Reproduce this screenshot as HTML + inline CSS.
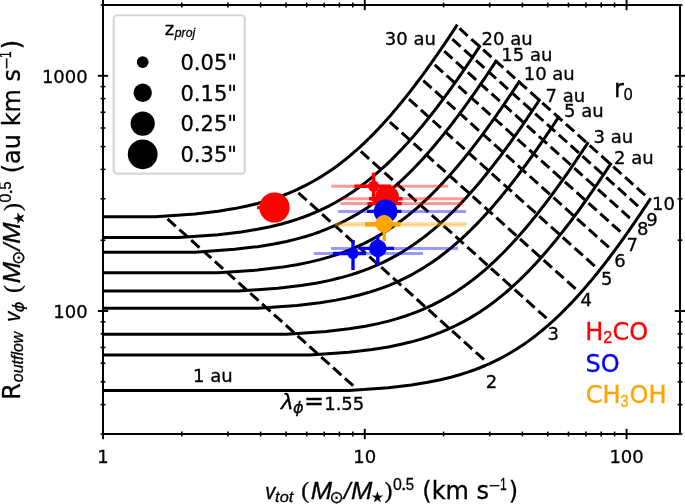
<!DOCTYPE html>
<html><head><meta charset="utf-8"><title>plot</title><style>html,body{margin:0;padding:0;background:#fff}svg{display:block}text{font-kerning:none;white-space:pre}</style></head><body>
<svg width="685" height="504" viewBox="0 0 685 504" font-family="DejaVu Sans, Liberation Sans, sans-serif">
<rect width="685" height="504" fill="#fff"/>
<defs><clipPath id="ax"><rect x="103.0" y="5.0" width="577.0" height="429.0"/></clipPath></defs>
<g clip-path="url(#ax)" fill="none" stroke="#000" stroke-width="3.0" stroke-linejoin="round" stroke-linecap="square">
<path d="M98.00,390.47 L349.00,390.47 L388.41,387.68 L411.45,384.96 L427.81,382.31 L440.49,379.74 L450.86,377.22 L459.62,374.77 L467.21,372.37 L473.90,370.03 L479.89,367.74 L485.31,365.50 L490.26,363.31 L494.81,361.16 L499.02,359.06 L502.94,357.00 L506.61,354.98 L510.06,353.00 L513.31,351.06 L516.38,349.16 L519.30,347.29 L522.07,345.45 L524.71,343.65 L527.24,341.87 L529.66,340.13 L531.98,338.42 L534.21,336.73 L536.36,335.07 L538.42,333.44 L540.42,331.84 L542.35,330.26 L544.21,328.70 L546.01,327.17 L547.76,325.66 L549.46,324.17 L551.11,322.70 L552.71,321.25 L554.27,319.83 L555.78,318.42 L557.26,317.03 L558.70,315.66 L560.10,314.31 L561.47,312.98 L562.81,311.66 L564.12,310.36 L565.39,309.08 L566.64,307.81 L567.87,306.56 L569.06,305.33 L570.23,304.10 L571.38,302.90 L572.51,301.70 L573.61,300.52 L574.70,299.36 L575.76,298.21 L576.80,297.07 L577.83,295.94 L578.83,294.82 L579.82,293.72 L580.79,292.63 L581.75,291.55 L582.69,290.48 L583.61,289.42 L584.52,288.38 L585.42,287.34 L586.30,286.32 L587.17,285.30 L588.02,284.30 L588.86,283.30 L589.69,282.32 L590.51,281.34 L591.32,280.37 L592.11,279.41 L592.90,278.46 L593.67,277.52 L594.43,276.59 L595.18,275.67 L595.93,274.75 L596.66,273.85 L597.39,272.95 L598.10,272.06 L598.81,271.17 L599.50,270.30 L600.19,269.43 L600.87,268.57 L601.55,267.71 L602.21,266.87 L602.87,266.03 L603.52,265.19 L604.16,264.37 L604.80,263.55 L605.42,262.73 L606.05,261.93 L606.66,261.13 L607.27,260.33 L607.87,259.54 L608.46,258.76 L609.05,257.99 L609.64,257.22 L610.21,256.45 L610.79,255.69 L611.35,254.94 L611.91,254.19 L612.47,253.45 L613.01,252.71 L613.56,251.98 L614.10,251.25 L614.63,250.53 L615.16,249.82 L615.68,249.11 L616.20,248.40 L616.72,247.70 L617.23,247.00 L617.73,246.31 L618.23,245.62 L618.73,244.94 L619.22,244.26 L619.71,243.59 L620.19,242.92 L620.67,242.25 L621.15,241.59 L621.62,240.94 L622.09,240.28 L622.55,239.64 L623.01,238.99 L623.47,238.35 L623.92,237.72 L624.37,237.08 L624.82,236.45 L625.26,235.83 L625.70,235.21 L626.14,234.59 L626.57,233.98 L627.00,233.37 L627.42,232.76 L627.84,232.16 L628.26,231.56 L628.68,230.97 L629.09,230.38 L629.50,229.79 L629.91,229.20 L630.32,228.62 L630.72,228.04 L631.12,227.47 L631.51,226.90 L631.91,226.33 L632.30,225.76 L632.69,225.20 L633.07,224.64 L633.45,224.08 L633.83,223.53 L634.21,222.98 L634.59,222.43 L634.96,221.89 L635.33,221.35 L635.70,220.81 L636.06,220.27 L636.43,219.74 L636.79,219.21 L637.15,218.68 L637.50,218.16 L637.86,217.63 L638.21,217.11 L638.56,216.60 L638.91,216.08 L639.25,215.57 L639.60,215.06 L639.94,214.56 L640.28,214.05 L640.61,213.55 L640.95,213.05 L641.28,212.55 L641.61,212.06 L641.94,211.57 L642.27,211.08 L642.60,210.59 L642.92,210.11 L643.24,209.62 L643.56,209.14 L643.88,208.66 L644.20,208.19 L644.51,207.71 L644.83,207.24 L645.14,206.77 L645.45,206.31 L645.76,205.84 L646.06,205.38 L646.37,204.92 L646.67,204.46 L646.97,204.00 L647.27,203.55 L647.57,203.09 L647.87,202.64 L648.16,202.19 L648.46,201.75 L648.75,201.30 L649.04,200.86 L649.33,200.42 L649.62,199.98 L649.90,199.54"/>
<path d="M98.00,355.06 L309.60,355.06 L349.00,352.27 L372.05,349.56 L388.41,346.91 L401.09,344.33 L411.45,341.82 L420.22,339.36 L427.81,336.97 L434.50,334.62 L440.49,332.34 L445.91,330.10 L450.86,327.90 L455.41,325.76 L459.62,323.66 L463.54,321.60 L467.21,319.58 L470.66,317.60 L473.90,315.66 L476.98,313.76 L479.89,311.89 L482.67,310.05 L485.31,308.24 L487.84,306.47 L490.26,304.73 L492.58,303.02 L494.81,301.33 L496.95,299.67 L499.02,298.04 L501.02,296.44 L502.94,294.85 L504.81,293.30 L506.61,291.76 L508.36,290.25 L510.06,288.76 L511.71,287.30 L513.31,285.85 L514.86,284.42 L516.38,283.02 L517.86,281.63 L519.30,280.26 L520.70,278.91 L522.07,277.58 L523.41,276.26 L524.71,274.96 L525.99,273.68 L527.24,272.41 L528.46,271.16 L529.66,269.92 L530.83,268.70 L531.98,267.49 L533.11,266.30 L534.21,265.12 L535.29,263.96 L536.36,262.80 L537.40,261.66 L538.42,260.54 L539.43,259.42 L540.42,258.32 L541.39,257.23 L542.35,256.15 L543.28,255.08 L544.21,254.02 L545.12,252.98 L546.01,251.94 L546.90,250.91 L547.76,249.90 L548.62,248.89 L549.46,247.90 L550.29,246.91 L551.11,245.94 L551.91,244.97 L552.71,244.01 L553.49,243.06 L554.27,242.12 L555.03,241.19 L555.78,240.27 L556.53,239.35 L557.26,238.44 L557.98,237.54 L558.70,236.65 L559.40,235.77 L560.10,234.89 L560.79,234.03 L561.47,233.16 L562.14,232.31 L562.81,231.46 L563.47,230.62 L564.12,229.79 L564.76,228.96 L565.39,228.14 L566.02,227.33 L566.64,226.52 L567.26,225.72 L567.87,224.93 L568.47,224.14 L569.06,223.36 L569.65,222.58 L570.23,221.81 L570.81,221.05 L571.38,220.29 L571.95,219.54 L572.51,218.79 L573.06,218.05 L573.61,217.31 L574.16,216.58 L574.70,215.85 L575.23,215.13 L575.76,214.41 L576.28,213.70 L576.80,213.00 L577.32,212.29 L577.83,211.60 L578.33,210.91 L578.83,210.22 L579.33,209.54 L579.82,208.86 L580.31,208.18 L580.79,207.51 L581.27,206.85 L581.75,206.19 L582.22,205.53 L582.69,204.88 L583.15,204.23 L583.61,203.59 L584.07,202.95 L584.52,202.31 L584.97,201.68 L585.42,201.05 L585.86,200.43 L586.30,199.81 L586.73,199.19 L587.17,198.58 L587.59,197.97 L588.02,197.36 L588.44,196.76 L588.86,196.16 L589.28,195.57 L589.69,194.97 L590.10,194.39 L590.51,193.80 L590.91,193.22 L591.32,192.64 L591.72,192.07 L592.11,191.49 L592.50,190.93 L592.90,190.36 L593.28,189.80 L593.67,189.24 L594.05,188.68 L594.43,188.13 L594.81,187.58 L595.18,187.03 L595.56,186.49 L595.93,185.94 L596.30,185.41 L596.66,184.87 L597.02,184.34 L597.39,183.81 L597.74,183.28 L598.10,182.75 L598.45,182.23 L598.81,181.71 L599.16,181.20 L599.50,180.68 L599.85,180.17 L600.19,179.66 L600.53,179.15 L600.87,178.65 L601.21,178.15 L601.55,177.65 L601.88,177.15 L602.21,176.66 L602.54,176.17 L602.87,175.68 L603.19,175.19 L603.52,174.70 L603.84,174.22 L604.16,173.74 L604.48,173.26 L604.80,172.79 L605.11,172.31 L605.42,171.84 L605.74,171.37 L606.05,170.90 L606.35,170.44 L606.66,169.98 L606.96,169.52 L607.27,169.06 L607.57,168.60 L607.87,168.14 L608.17,167.69 L608.46,167.24 L608.76,166.79 L609.05,166.35 L609.35,165.90 L609.64,165.46 L609.93,165.02 L610.21,164.58 L610.50,164.14"/>
<path d="M98.00,334.35 L286.55,334.35 L325.95,331.56 L349.00,328.85 L365.36,326.20 L378.04,323.62 L388.41,321.11 L397.17,318.65 L404.76,316.26 L411.45,313.92 L417.44,311.63 L422.86,309.39 L427.81,307.20 L432.36,305.05 L436.57,302.95 L440.49,300.89 L444.16,298.87 L447.61,296.89 L450.86,294.95 L453.93,293.05 L456.85,291.18 L459.62,289.34 L462.26,287.54 L464.79,285.76 L467.21,284.02 L469.53,282.31 L471.76,280.62 L473.90,278.96 L475.97,277.33 L477.97,275.73 L479.89,274.15 L481.76,272.59 L483.56,271.05 L485.31,269.54 L487.01,268.06 L488.66,266.59 L490.26,265.14 L491.82,263.72 L493.33,262.31 L494.81,260.92 L496.25,259.55 L497.65,258.20 L499.02,256.87 L500.36,255.55 L501.67,254.25 L502.94,252.97 L504.19,251.70 L505.41,250.45 L506.61,249.21 L507.78,247.99 L508.93,246.79 L510.06,245.59 L511.16,244.41 L512.24,243.25 L513.31,242.09 L514.35,240.95 L515.37,239.83 L516.38,238.71 L517.37,237.61 L518.34,236.52 L519.30,235.44 L520.24,234.37 L521.16,233.31 L522.07,232.27 L522.97,231.23 L523.85,230.21 L524.71,229.19 L525.57,228.18 L526.41,227.19 L527.24,226.20 L528.06,225.23 L528.87,224.26 L529.66,223.30 L530.44,222.35 L531.22,221.41 L531.98,220.48 L532.73,219.56 L533.48,218.64 L534.21,217.73 L534.93,216.84 L535.65,215.94 L536.36,215.06 L537.05,214.18 L537.74,213.32 L538.42,212.46 L539.10,211.60 L539.76,210.75 L540.42,209.91 L541.07,209.08 L541.71,208.25 L542.35,207.44 L542.97,206.62 L543.59,205.82 L544.21,205.01 L544.82,204.22 L545.42,203.43 L546.01,202.65 L546.60,201.87 L547.19,201.10 L547.76,200.34 L548.33,199.58 L548.90,198.83 L549.46,198.08 L550.01,197.34 L550.56,196.60 L551.11,195.87 L551.65,195.14 L552.18,194.42 L552.71,193.70 L553.23,192.99 L553.75,192.29 L554.27,191.59 L554.78,190.89 L555.28,190.20 L555.78,189.51 L556.28,188.83 L556.77,188.15 L557.26,187.48 L557.74,186.81 L558.22,186.14 L558.70,185.48 L559.17,184.82 L559.64,184.17 L560.10,183.52 L560.56,182.88 L561.02,182.24 L561.47,181.60 L561.92,180.97 L562.37,180.34 L562.81,179.72 L563.25,179.10 L563.68,178.48 L564.12,177.87 L564.55,177.26 L564.97,176.65 L565.39,176.05 L565.81,175.45 L566.23,174.86 L566.64,174.27 L567.05,173.68 L567.46,173.09 L567.87,172.51 L568.27,171.93 L568.67,171.36 L569.06,170.78 L569.46,170.22 L569.85,169.65 L570.23,169.09 L570.62,168.53 L571.00,167.97 L571.38,167.42 L571.76,166.87 L572.14,166.32 L572.51,165.78 L572.88,165.24 L573.25,164.70 L573.61,164.16 L573.98,163.63 L574.34,163.10 L574.70,162.57 L575.05,162.04 L575.41,161.52 L575.76,161.00 L576.11,160.49 L576.46,159.97 L576.80,159.46 L577.14,158.95 L577.49,158.44 L577.83,157.94 L578.16,157.44 L578.50,156.94 L578.83,156.44 L579.16,155.95 L579.49,155.46 L579.82,154.97 L580.15,154.48 L580.47,153.99 L580.79,153.51 L581.11,153.03 L581.43,152.55 L581.75,152.08 L582.06,151.60 L582.38,151.13 L582.69,150.66 L583.00,150.19 L583.30,149.73 L583.61,149.27 L583.92,148.81 L584.22,148.35 L584.52,147.89 L584.82,147.44 L585.12,146.98 L585.42,146.53 L585.71,146.08 L586.01,145.64 L586.30,145.19 L586.59,144.75 L586.88,144.31 L587.17,143.87 L587.45,143.43"/>
<path d="M98.00,308.26 L257.51,308.26 L296.92,305.47 L319.96,302.76 L336.32,300.11 L349.00,297.53 L359.37,295.02 L368.13,292.56 L375.72,290.17 L382.42,287.83 L388.41,285.54 L393.82,283.30 L398.77,281.11 L403.32,278.96 L407.53,276.86 L411.45,274.80 L415.12,272.78 L418.57,270.80 L421.82,268.86 L424.89,266.96 L427.81,265.09 L430.58,263.25 L433.23,261.44 L435.75,259.67 L438.17,257.93 L440.49,256.22 L442.72,254.53 L444.87,252.87 L446.93,251.24 L448.93,249.64 L450.86,248.05 L452.72,246.50 L454.52,244.96 L456.27,243.45 L457.97,241.97 L459.62,240.50 L461.22,239.05 L462.78,237.62 L464.29,236.22 L465.77,234.83 L467.21,233.46 L468.61,232.11 L469.98,230.78 L471.32,229.46 L472.63,228.16 L473.90,226.88 L475.15,225.61 L476.38,224.36 L477.57,223.12 L478.75,221.90 L479.89,220.69 L481.02,219.50 L482.12,218.32 L483.21,217.16 L484.27,216.00 L485.31,214.86 L486.34,213.74 L487.34,212.62 L488.33,211.52 L489.30,210.43 L490.26,209.35 L491.20,208.28 L492.12,207.22 L493.03,206.18 L493.93,205.14 L494.81,204.11 L495.68,203.10 L496.53,202.09 L497.37,201.10 L498.20,200.11 L499.02,199.14 L499.83,198.17 L500.62,197.21 L501.41,196.26 L502.18,195.32 L502.94,194.39 L503.70,193.47 L504.44,192.55 L505.17,191.64 L505.90,190.75 L506.61,189.85 L507.32,188.97 L508.02,188.09 L508.70,187.23 L509.39,186.36 L510.06,185.51 L510.72,184.66 L511.38,183.82 L512.03,182.99 L512.67,182.16 L513.31,181.34 L513.94,180.53 L514.56,179.72 L515.17,178.92 L515.78,178.13 L516.38,177.34 L516.98,176.56 L517.56,175.78 L518.15,175.01 L518.73,174.25 L519.30,173.49 L519.86,172.74 L520.42,171.99 L520.98,171.25 L521.53,170.51 L522.07,169.78 L522.61,169.05 L523.14,168.33 L523.67,167.61 L524.20,166.90 L524.71,166.20 L525.23,165.50 L525.74,164.80 L526.24,164.11 L526.74,163.42 L527.24,162.74 L527.73,162.06 L528.22,161.38 L528.71,160.72 L529.18,160.05 L529.66,159.39 L530.13,158.73 L530.60,158.08 L531.06,157.43 L531.52,156.79 L531.98,156.15 L532.43,155.51 L532.88,154.88 L533.33,154.25 L533.77,153.63 L534.21,153.01 L534.65,152.39 L535.08,151.78 L535.51,151.17 L535.93,150.56 L536.36,149.96 L536.78,149.36 L537.19,148.77 L537.61,148.17 L538.02,147.59 L538.42,147.00 L538.83,146.42 L539.23,145.84 L539.63,145.27 L540.02,144.69 L540.42,144.13 L540.81,143.56 L541.20,143.00 L541.58,142.44 L541.96,141.88 L542.35,141.33 L542.72,140.78 L543.10,140.23 L543.47,139.69 L543.84,139.15 L544.21,138.61 L544.57,138.07 L544.94,137.54 L545.30,137.01 L545.66,136.48 L546.01,135.95 L546.37,135.43 L546.72,134.91 L547.07,134.40 L547.42,133.88 L547.76,133.37 L548.11,132.86 L548.45,132.35 L548.79,131.85 L549.12,131.35 L549.46,130.85 L549.79,130.35 L550.12,129.86 L550.45,129.37 L550.78,128.88 L551.11,128.39 L551.43,127.90 L551.75,127.42 L552.07,126.94 L552.39,126.46 L552.71,125.99 L553.02,125.51 L553.34,125.04 L553.65,124.57 L553.96,124.10 L554.27,123.64 L554.57,123.18 L554.88,122.72 L555.18,122.26 L555.48,121.80 L555.78,121.35 L556.08,120.89 L556.38,120.44 L556.67,119.99 L556.97,119.55 L557.26,119.10 L557.55,118.66 L557.84,118.22 L558.13,117.78 L558.41,117.34"/>
<path d="M98.00,291.08 L238.39,291.08 L277.79,288.29 L300.84,285.57 L317.19,282.93 L329.88,280.35 L340.24,277.83 L349.00,275.38 L356.59,272.98 L363.29,270.64 L369.28,268.35 L374.70,266.11 L379.64,263.92 L384.19,261.77 L388.41,259.67 L392.33,257.61 L396.00,255.60 L399.44,253.62 L402.69,251.68 L405.76,249.77 L408.68,247.90 L411.45,246.06 L414.10,244.26 L416.63,242.49 L419.04,240.74 L421.37,239.03 L423.59,237.35 L425.74,235.69 L427.81,234.06 L429.80,232.45 L431.73,230.87 L433.59,229.31 L435.40,227.78 L437.15,226.27 L438.84,224.78 L440.49,223.31 L442.09,221.87 L443.65,220.44 L445.17,219.03 L446.64,217.65 L448.08,216.28 L449.49,214.93 L450.86,213.59 L452.19,212.28 L453.50,210.98 L454.78,209.69 L456.03,208.43 L457.25,207.17 L458.45,205.94 L459.62,204.72 L460.77,203.51 L461.89,202.32 L463.00,201.14 L464.08,199.97 L465.14,198.82 L466.19,197.68 L467.21,196.55 L468.22,195.44 L469.20,194.33 L470.18,193.24 L471.13,192.16 L472.07,191.09 L473.00,190.04 L473.90,188.99 L474.80,187.95 L475.68,186.93 L476.55,185.91 L477.40,184.91 L478.25,183.91 L479.08,182.93 L479.89,181.95 L480.70,180.98 L481.50,180.03 L482.28,179.08 L483.05,178.14 L483.82,177.20 L484.57,176.28 L485.31,175.37 L486.05,174.46 L486.77,173.56 L487.48,172.67 L488.19,171.78 L488.89,170.91 L489.58,170.04 L490.26,169.18 L490.93,168.33 L491.60,167.48 L492.25,166.64 L492.90,165.81 L493.55,164.98 L494.18,164.16 L494.81,163.35 L495.43,162.54 L496.04,161.74 L496.65,160.94 L497.25,160.16 L497.85,159.37 L498.44,158.60 L499.02,157.83 L499.60,157.06 L500.17,156.30 L500.74,155.55 L501.30,154.80 L501.85,154.06 L502.40,153.32 L502.94,152.59 L503.48,151.87 L504.02,151.15 L504.54,150.43 L505.07,149.72 L505.59,149.01 L506.10,148.31 L506.61,147.61 L507.12,146.92 L507.62,146.23 L508.11,145.55 L508.61,144.87 L509.09,144.20 L509.58,143.53 L510.06,142.87 L510.53,142.20 L511.01,141.55 L511.47,140.90 L511.94,140.25 L512.40,139.60 L512.85,138.96 L513.31,138.33 L513.76,137.70 L514.20,137.07 L514.64,136.44 L515.08,135.82 L515.52,135.21 L515.95,134.59 L516.38,133.98 L516.81,133.38 L517.23,132.78 L517.65,132.18 L518.06,131.58 L518.48,130.99 L518.89,130.40 L519.30,129.82 L519.70,129.23 L520.10,128.66 L520.50,128.08 L520.90,127.51 L521.29,126.94 L521.68,126.37 L522.07,125.81 L522.46,125.25 L522.84,124.70 L523.22,124.14 L523.60,123.59 L523.97,123.05 L524.34,122.50 L524.71,121.96 L525.08,121.42 L525.45,120.89 L525.81,120.35 L526.17,119.82 L526.53,119.29 L526.89,118.77 L527.24,118.25 L527.59,117.73 L527.94,117.21 L528.29,116.70 L528.64,116.18 L528.98,115.68 L529.32,115.17 L529.66,114.66 L530.00,114.16 L530.33,113.66 L530.67,113.17 L531.00,112.67 L531.33,112.18 L531.66,111.69 L531.98,111.20 L532.30,110.72 L532.63,110.24 L532.95,109.76 L533.27,109.28 L533.58,108.80 L533.90,108.33 L534.21,107.86 L534.52,107.39 L534.83,106.92 L535.14,106.45 L535.45,105.99 L535.75,105.53 L536.05,105.07 L536.36,104.61 L536.66,104.16 L536.95,103.71 L537.25,103.26 L537.55,102.81 L537.84,102.36 L538.13,101.92 L538.42,101.47 L538.71,101.03 L539.00,100.59 L539.29,100.16"/>
<path d="M98.00,272.86 L218.11,272.86 L257.51,270.07 L280.56,267.36 L296.92,264.71 L309.60,262.13 L319.96,259.62 L328.73,257.16 L336.32,254.76 L343.01,252.42 L349.00,250.13 L354.42,247.89 L359.37,245.70 L363.92,243.56 L368.13,241.46 L372.05,239.40 L375.72,237.38 L379.17,235.40 L382.42,233.46 L385.49,231.55 L388.41,229.68 L391.18,227.85 L393.82,226.04 L396.35,224.27 L398.77,222.53 L401.09,220.81 L403.32,219.13 L405.46,217.47 L407.53,215.84 L409.53,214.23 L411.45,212.65 L413.32,211.10 L415.12,209.56 L416.87,208.05 L418.57,206.56 L420.22,205.10 L421.82,203.65 L423.38,202.22 L424.89,200.82 L426.37,199.43 L427.81,198.06 L429.21,196.71 L430.58,195.37 L431.92,194.06 L433.23,192.76 L434.50,191.48 L435.75,190.21 L436.97,188.96 L438.17,187.72 L439.34,186.50 L440.49,185.29 L441.62,184.10 L442.72,182.92 L443.80,181.75 L444.87,180.60 L445.91,179.46 L446.93,178.33 L447.94,177.22 L448.93,176.12 L449.90,175.03 L450.86,173.95 L451.80,172.88 L452.72,171.82 L453.63,170.77 L454.52,169.74 L455.41,168.71 L456.27,167.70 L457.13,166.69 L457.97,165.70 L458.80,164.71 L459.62,163.73 L460.43,162.77 L461.22,161.81 L462.00,160.86 L462.78,159.92 L463.54,158.99 L464.29,158.06 L465.04,157.15 L465.77,156.24 L466.49,155.34 L467.21,154.45 L467.92,153.57 L468.61,152.69 L469.30,151.82 L469.98,150.96 L470.66,150.11 L471.32,149.26 L471.98,148.42 L472.63,147.59 L473.27,146.76 L473.90,145.94 L474.53,145.13 L475.15,144.32 L475.77,143.52 L476.38,142.73 L476.98,141.94 L477.57,141.16 L478.16,140.38 L478.75,139.61 L479.32,138.85 L479.89,138.09 L480.46,137.33 L481.02,136.59 L481.57,135.84 L482.12,135.11 L482.67,134.38 L483.21,133.65 L483.74,132.93 L484.27,132.21 L484.79,131.50 L485.31,130.79 L485.83,130.09 L486.34,129.40 L486.84,128.70 L487.34,128.02 L487.84,127.33 L488.33,126.66 L488.82,125.98 L489.30,125.31 L489.78,124.65 L490.26,123.99 L490.73,123.33 L491.20,122.68 L491.66,122.03 L492.12,121.39 L492.58,120.75 L493.03,120.11 L493.48,119.48 L493.93,118.85 L494.37,118.23 L494.81,117.61 L495.24,116.99 L495.68,116.38 L496.11,115.77 L496.53,115.16 L496.95,114.56 L497.37,113.96 L497.79,113.36 L498.20,112.77 L498.61,112.18 L499.02,111.60 L499.43,111.02 L499.83,110.44 L500.23,109.86 L500.62,109.29 L501.02,108.72 L501.41,108.16 L501.79,107.60 L502.18,107.04 L502.56,106.48 L502.94,105.93 L503.32,105.38 L503.70,104.83 L504.07,104.28 L504.44,103.74 L504.81,103.20 L505.17,102.67 L505.54,102.13 L505.90,101.60 L506.26,101.08 L506.61,100.55 L506.97,100.03 L507.32,99.51 L507.67,98.99 L508.02,98.48 L508.36,97.97 L508.70,97.46 L509.05,96.95 L509.39,96.45 L509.72,95.95 L510.06,95.45 L510.39,94.95 L510.72,94.46 L511.05,93.96 L511.38,93.47 L511.71,92.99 L512.03,92.50 L512.35,92.02 L512.67,91.54 L512.99,91.06 L513.31,90.58 L513.62,90.11 L513.94,89.64 L514.25,89.17 L514.56,88.70 L514.86,88.24 L515.17,87.77 L515.48,87.31 L515.78,86.85 L516.08,86.40 L516.38,85.94 L516.68,85.49 L516.98,85.04 L517.27,84.59 L517.56,84.14 L517.86,83.70 L518.15,83.26 L518.44,82.81 L518.73,82.38 L519.01,81.94"/>
<path d="M98.00,252.15 L195.06,252.15 L234.47,249.36 L257.51,246.65 L273.87,244.00 L286.55,241.42 L296.92,238.91 L305.68,236.45 L313.27,234.06 L319.96,231.71 L325.95,229.42 L331.37,227.18 L336.32,224.99 L340.87,222.85 L345.08,220.75 L349.00,218.69 L352.67,216.67 L356.12,214.69 L359.37,212.75 L362.44,210.84 L365.36,208.97 L368.13,207.14 L370.77,205.33 L373.30,203.56 L375.72,201.82 L378.04,200.10 L380.27,198.42 L382.42,196.76 L384.48,195.13 L386.48,193.52 L388.41,191.94 L390.27,190.39 L392.07,188.85 L393.82,187.34 L395.52,185.85 L397.17,184.39 L398.77,182.94 L400.33,181.51 L401.84,180.11 L403.32,178.72 L404.76,177.35 L406.16,176.00 L407.53,174.67 L408.87,173.35 L410.18,172.05 L411.45,170.77 L412.70,169.50 L413.93,168.25 L415.12,167.01 L416.29,165.79 L417.44,164.58 L418.57,163.39 L419.67,162.21 L420.76,161.05 L421.82,159.89 L422.86,158.75 L423.89,157.63 L424.89,156.51 L425.88,155.41 L426.85,154.32 L427.81,153.24 L428.75,152.17 L429.67,151.11 L430.58,150.06 L431.48,149.03 L432.36,148.00 L433.23,146.99 L434.08,145.98 L434.92,144.99 L435.75,144.00 L436.57,143.03 L437.38,142.06 L438.17,141.10 L438.96,140.15 L439.73,139.21 L440.49,138.28 L441.24,137.35 L441.99,136.44 L442.72,135.53 L443.45,134.63 L444.16,133.74 L444.87,132.86 L445.56,131.98 L446.25,131.11 L446.93,130.25 L447.61,129.40 L448.27,128.55 L448.93,127.71 L449.58,126.88 L450.22,126.05 L450.86,125.23 L451.48,124.42 L452.11,123.61 L452.72,122.81 L453.33,122.02 L453.93,121.23 L454.52,120.45 L455.11,119.67 L455.70,118.90 L456.27,118.14 L456.85,117.38 L457.41,116.63 L457.97,115.88 L458.53,115.14 L459.07,114.40 L459.62,113.67 L460.16,112.94 L460.69,112.22 L461.22,111.50 L461.74,110.79 L462.26,110.09 L462.78,109.38 L463.29,108.69 L463.79,108.00 L464.29,107.31 L464.79,106.62 L465.28,105.95 L465.77,105.27 L466.25,104.60 L466.73,103.94 L467.21,103.28 L467.68,102.62 L468.15,101.97 L468.61,101.32 L469.07,100.68 L469.53,100.04 L469.98,99.40 L470.43,98.77 L470.88,98.14 L471.32,97.52 L471.76,96.90 L472.20,96.28 L472.63,95.67 L473.06,95.06 L473.48,94.45 L473.90,93.85 L474.32,93.25 L474.74,92.66 L475.15,92.06 L475.56,91.47 L475.97,90.89 L476.38,90.31 L476.78,89.73 L477.18,89.15 L477.57,88.58 L477.97,88.01 L478.36,87.45 L478.75,86.89 L479.13,86.33 L479.51,85.77 L479.89,85.22 L480.27,84.67 L480.65,84.12 L481.02,83.57 L481.39,83.03 L481.76,82.49 L482.12,81.96 L482.49,81.43 L482.85,80.90 L483.21,80.37 L483.56,79.84 L483.92,79.32 L484.27,78.80 L484.62,78.28 L484.97,77.77 L485.31,77.26 L485.66,76.75 L486.00,76.24 L486.34,75.74 L486.67,75.24 L487.01,74.74 L487.34,74.24 L487.67,73.75 L488.00,73.25 L488.33,72.76 L488.66,72.28 L488.98,71.79 L489.30,71.31 L489.62,70.83 L489.94,70.35 L490.26,69.87 L490.57,69.40 L490.89,68.93 L491.20,68.46 L491.51,67.99 L491.82,67.53 L492.12,67.06 L492.43,66.60 L492.73,66.14 L493.03,65.69 L493.33,65.23 L493.63,64.78 L493.93,64.33 L494.22,63.88 L494.52,63.43 L494.81,62.99 L495.10,62.55 L495.39,62.11 L495.68,61.67 L495.96,61.23"/>
<path d="M98.00,237.46 L178.71,237.46 L218.11,234.67 L241.16,231.95 L257.51,229.31 L270.20,226.73 L280.56,224.21 L289.33,221.76 L296.92,219.36 L303.61,217.02 L309.60,214.73 L315.02,212.49 L319.96,210.30 L324.51,208.15 L328.73,206.05 L332.65,203.99 L336.32,201.98 L339.76,200.00 L343.01,198.06 L346.09,196.15 L349.00,194.28 L351.78,192.44 L354.42,190.64 L356.95,188.87 L359.37,187.12 L361.69,185.41 L363.92,183.73 L366.06,182.07 L368.13,180.44 L370.12,178.83 L372.05,177.25 L373.92,175.69 L375.72,174.16 L377.47,172.65 L379.17,171.16 L380.81,169.69 L382.42,168.25 L383.97,166.82 L385.49,165.41 L386.97,164.03 L388.41,162.66 L389.81,161.31 L391.18,159.97 L392.52,158.66 L393.82,157.36 L395.10,156.07 L396.35,154.81 L397.57,153.56 L398.77,152.32 L399.94,151.10 L401.09,149.89 L402.22,148.70 L403.32,147.52 L404.40,146.35 L405.46,145.20 L406.51,144.06 L407.53,142.93 L408.54,141.82 L409.53,140.71 L410.50,139.62 L411.45,138.54 L412.39,137.47 L413.32,136.42 L414.23,135.37 L415.12,134.34 L416.00,133.31 L416.87,132.29 L417.73,131.29 L418.57,130.29 L419.40,129.31 L420.22,128.33 L421.02,127.36 L421.82,126.41 L422.60,125.46 L423.38,124.52 L424.14,123.58 L424.89,122.66 L425.63,121.75 L426.37,120.84 L427.09,119.94 L427.81,119.05 L428.51,118.17 L429.21,117.29 L429.90,116.42 L430.58,115.56 L431.25,114.71 L431.92,113.86 L432.58,113.02 L433.23,112.19 L433.87,111.36 L434.50,110.54 L435.13,109.73 L435.75,108.92 L436.37,108.12 L436.97,107.33 L437.58,106.54 L438.17,105.75 L438.76,104.98 L439.34,104.21 L439.92,103.44 L440.49,102.69 L441.06,101.93 L441.62,101.18 L442.17,100.44 L442.72,99.71 L443.27,98.97 L443.80,98.25 L444.34,97.53 L444.87,96.81 L445.39,96.10 L445.91,95.39 L446.42,94.69 L446.93,93.99 L447.44,93.30 L447.94,92.61 L448.44,91.93 L448.93,91.25 L449.42,90.58 L449.90,89.91 L450.38,89.25 L450.86,88.58 L451.33,87.93 L451.80,87.28 L452.26,86.63 L452.72,85.98 L453.18,85.34 L453.63,84.71 L454.08,84.08 L454.52,83.45 L454.97,82.82 L455.41,82.20 L455.84,81.59 L456.27,80.97 L456.70,80.36 L457.13,79.76 L457.55,79.16 L457.97,78.56 L458.39,77.96 L458.80,77.37 L459.21,76.78 L459.62,76.20 L460.02,75.61 L460.43,75.04 L460.82,74.46 L461.22,73.89 L461.61,73.32 L462.00,72.76 L462.39,72.19 L462.78,71.63 L463.16,71.08 L463.54,70.52 L463.92,69.97 L464.29,69.43 L464.67,68.88 L465.04,68.34 L465.40,67.80 L465.77,67.27 L466.13,66.73 L466.49,66.20 L466.85,65.67 L467.21,65.15 L467.56,64.63 L467.92,64.11 L468.27,63.59 L468.61,63.08 L468.96,62.56 L469.30,62.06 L469.64,61.55 L469.98,61.04 L470.32,60.54 L470.66,60.04 L470.99,59.55 L471.32,59.05 L471.65,58.56 L471.98,58.07 L472.30,57.58 L472.63,57.10 L472.95,56.62 L473.27,56.14 L473.59,55.66 L473.90,55.18 L474.22,54.71 L474.53,54.24 L474.84,53.77 L475.15,53.30 L475.46,52.83 L475.77,52.37 L476.07,51.91 L476.38,51.45 L476.68,50.99 L476.98,50.54 L477.28,50.09 L477.57,49.64 L477.87,49.19 L478.16,48.74 L478.45,48.30 L478.75,47.85 L479.04,47.41 L479.32,46.97 L479.61,46.54"/>
<path d="M98.00,216.75 L155.66,216.75 L195.06,213.96 L218.11,211.24 L234.47,208.60 L247.15,206.02 L257.51,203.50 L266.28,201.05 L273.87,198.65 L280.56,196.31 L286.55,194.02 L291.97,191.78 L296.92,189.59 L301.47,187.45 L305.68,185.34 L309.60,183.29 L313.27,181.27 L316.72,179.29 L319.96,177.35 L323.04,175.44 L325.95,173.57 L328.73,171.73 L331.37,169.93 L333.90,168.16 L336.32,166.42 L338.64,164.70 L340.87,163.02 L343.01,161.36 L345.08,159.73 L347.08,158.12 L349.00,156.54 L350.87,154.98 L352.67,153.45 L354.42,151.94 L356.12,150.45 L357.77,148.98 L359.37,147.54 L360.92,146.11 L362.44,144.70 L363.92,143.32 L365.36,141.95 L366.76,140.60 L368.13,139.26 L369.47,137.95 L370.77,136.65 L372.05,135.36 L373.30,134.10 L374.52,132.85 L375.72,131.61 L376.89,130.39 L378.04,129.18 L379.17,127.99 L380.27,126.81 L381.35,125.64 L382.42,124.49 L383.46,123.35 L384.48,122.22 L385.49,121.11 L386.48,120.00 L387.45,118.91 L388.41,117.83 L389.34,116.77 L390.27,115.71 L391.18,114.66 L392.07,113.63 L392.96,112.60 L393.82,111.59 L394.68,110.58 L395.52,109.58 L396.35,108.60 L397.17,107.62 L397.97,106.66 L398.77,105.70 L399.55,104.75 L400.33,103.81 L401.09,102.88 L401.84,101.95 L402.59,101.04 L403.32,100.13 L404.04,99.23 L404.76,98.34 L405.46,97.46 L406.16,96.58 L406.85,95.71 L407.53,94.85 L408.20,94.00 L408.87,93.15 L409.53,92.31 L410.18,91.48 L410.82,90.65 L411.45,89.83 L412.08,89.02 L412.70,88.21 L413.32,87.41 L413.93,86.62 L414.53,85.83 L415.12,85.05 L415.71,84.27 L416.29,83.50 L416.87,82.73 L417.44,81.98 L418.01,81.22 L418.57,80.48 L419.12,79.73 L419.67,79.00 L420.22,78.26 L420.76,77.54 L421.29,76.82 L421.82,76.10 L422.34,75.39 L422.86,74.68 L423.38,73.98 L423.89,73.28 L424.39,72.59 L424.89,71.91 L425.39,71.22 L425.88,70.54 L426.37,69.87 L426.85,69.20 L427.33,68.54 L427.81,67.88 L428.28,67.22 L428.75,66.57 L429.21,65.92 L429.67,65.27 L430.13,64.63 L430.58,64.00 L431.03,63.37 L431.48,62.74 L431.92,62.11 L432.36,61.49 L432.79,60.88 L433.23,60.26 L433.65,59.65 L434.08,59.05 L434.50,58.45 L434.92,57.85 L435.34,57.25 L435.75,56.66 L436.16,56.07 L436.57,55.49 L436.97,54.91 L437.38,54.33 L437.78,53.75 L438.17,53.18 L438.56,52.61 L438.96,52.05 L439.34,51.48 L439.73,50.92 L440.11,50.37 L440.49,49.81 L440.87,49.26 L441.24,48.72 L441.62,48.17 L441.99,47.63 L442.36,47.09 L442.72,46.56 L443.08,46.02 L443.45,45.49 L443.80,44.97 L444.16,44.44 L444.51,43.92 L444.87,43.40 L445.22,42.88 L445.56,42.37 L445.91,41.86 L446.25,41.35 L446.59,40.84 L446.93,40.34 L447.27,39.83 L447.61,39.33 L447.94,38.84 L448.27,38.34 L448.60,37.85 L448.93,37.36 L449.25,36.87 L449.58,36.39 L449.90,35.91 L450.22,35.43 L450.54,34.95 L450.86,34.47 L451.17,34.00 L451.48,33.53 L451.80,33.06 L452.11,32.59 L452.41,32.13 L452.72,31.66 L453.02,31.20 L453.33,30.74 L453.63,30.29 L453.93,29.83 L454.23,29.38 L454.52,28.93 L454.82,28.48 L455.11,28.03 L455.41,27.59 L455.70,27.14 L455.99,26.70 L456.27,26.26 L456.56,25.83"/>
<path d="M167.52,218.87 L353.18,385.69" stroke-dasharray="11.1 4.8" stroke-linecap="butt"/>
<path d="M298.41,192.84 L484.07,359.66" stroke-dasharray="11.1 4.8" stroke-linecap="butt"/>
<path d="M360.86,151.42 L546.52,318.24" stroke-dasharray="11.1 4.8" stroke-linecap="butt"/>
<path d="M389.90,122.03 L575.56,288.85" stroke-dasharray="11.1 4.8" stroke-linecap="butt"/>
<path d="M409.02,99.24 L594.69,266.06" stroke-dasharray="11.1 4.8" stroke-linecap="butt"/>
<path d="M423.31,80.61 L608.97,247.43" stroke-dasharray="11.1 4.8" stroke-linecap="butt"/>
<path d="M434.72,64.87 L620.38,231.69" stroke-dasharray="11.1 4.8" stroke-linecap="butt"/>
<path d="M444.21,51.23 L629.88,218.05" stroke-dasharray="11.1 4.8" stroke-linecap="butt"/>
<path d="M452.35,39.20 L638.01,206.01" stroke-dasharray="11.1 4.8" stroke-linecap="butt"/>
<path d="M459.46,28.43 L645.13,195.25" stroke-dasharray="11.1 4.8" stroke-linecap="butt"/>
</g>
<g>
<line x1="334.5" x2="465.8" y1="225.2" y2="225.2" stroke="#ffa500" stroke-width="3" stroke-opacity="0.33"/>
<line x1="331.4" x2="448.3" y1="186.2" y2="186.2" stroke="#ff0000" stroke-width="3" stroke-opacity="0.4"/>
<line x1="342.6" x2="464.2" y1="198.7" y2="198.7" stroke="#ff0000" stroke-width="3" stroke-opacity="0.4"/>
<line x1="340.4" x2="463" y1="203.6" y2="203.6" stroke="#ff0000" stroke-width="3" stroke-opacity="0.4"/>
<line x1="338.2" x2="466" y1="211.4" y2="211.4" stroke="#0000ff" stroke-width="3" stroke-opacity="0.4"/>
<line x1="334.6" x2="467.4" y1="223.6" y2="223.6" stroke="#ffa500" stroke-width="3" stroke-opacity="0.33"/>
<line x1="314" x2="423" y1="253.5" y2="253.5" stroke="#0000ff" stroke-width="3" stroke-opacity="0.4"/>
<line x1="331" x2="458" y1="248.4" y2="248.4" stroke="#0000ff" stroke-width="3" stroke-opacity="0.4"/>
<line x1="257" x2="285" y1="207.5" y2="207.5" stroke="#ff0000" stroke-width="3.4"/>
<circle cx="274.5" cy="207.5" r="15.1" fill="#ff0000"/>
<line x1="354.3" x2="390.8" y1="186.2" y2="186.2" stroke="#ff0000" stroke-width="3.4"/>
<line x1="373.6" x2="373.6" y1="172.7" y2="201.5" stroke="#ff0000" stroke-width="3.4"/>
<circle cx="373.6" cy="186.2" r="5.6" fill="#ff0000"/>
<line x1="368.9" x2="402.5" y1="198.7" y2="198.7" stroke="#ff0000" stroke-width="3.4"/>
<line x1="367.4" x2="401.8" y1="203.6" y2="203.6" stroke="#ff0000" stroke-width="3.4"/>
<circle cx="387.1" cy="197.1" r="11.8" fill="#ff0000"/>
<line x1="367" x2="401.5" y1="211.4" y2="211.4" stroke="#0000ff" stroke-width="3.4"/>
<circle cx="385.6" cy="211.4" r="11.8" fill="#0000ff"/>
<line x1="365" x2="400.6" y1="224.35" y2="224.35" stroke="#ffa500" stroke-width="4.5"/>
<line x1="384.2" x2="384.2" y1="215" y2="240.9" stroke="#ffa500" stroke-width="3.4"/>
<circle cx="384.2" cy="223.7" r="8.8" fill="#ffa500"/>
<line x1="333" x2="366" y1="253.5" y2="253.5" stroke="#0000ff" stroke-width="3.4"/>
<line x1="353.0" x2="353.0" y1="240" y2="270" stroke="#0000ff" stroke-width="3.4"/>
<circle cx="353.0" cy="253.5" r="5.6" fill="#0000ff"/>
<line x1="360" x2="394" y1="248.4" y2="248.4" stroke="#0000ff" stroke-width="3.4"/>
<line x1="377.8" x2="377.8" y1="235" y2="265" stroke="#0000ff" stroke-width="3.4"/>
<circle cx="377.8" cy="248.4" r="8.8" fill="#0000ff"/>
</g>
<g stroke="#000" fill="none">
<line x1="103.00" x2="103.00" y1="-0.20000000000000018" y2="10.2" stroke-width="1.9"/>
<line x1="103.00" x2="103.00" y1="428.8" y2="439.2" stroke-width="1.9"/>
<line x1="364.78" x2="364.78" y1="-0.20000000000000018" y2="10.2" stroke-width="1.9"/>
<line x1="364.78" x2="364.78" y1="428.8" y2="439.2" stroke-width="1.9"/>
<line x1="626.56" x2="626.56" y1="-0.20000000000000018" y2="10.2" stroke-width="1.9"/>
<line x1="626.56" x2="626.56" y1="428.8" y2="439.2" stroke-width="1.9"/>
<line x1="181.80" x2="181.80" y1="2.6" y2="7.4" stroke-width="1.6"/>
<line x1="181.80" x2="181.80" y1="431.6" y2="436.4" stroke-width="1.6"/>
<line x1="227.90" x2="227.90" y1="2.6" y2="7.4" stroke-width="1.6"/>
<line x1="227.90" x2="227.90" y1="431.6" y2="436.4" stroke-width="1.6"/>
<line x1="260.61" x2="260.61" y1="2.6" y2="7.4" stroke-width="1.6"/>
<line x1="260.61" x2="260.61" y1="431.6" y2="436.4" stroke-width="1.6"/>
<line x1="285.98" x2="285.98" y1="2.6" y2="7.4" stroke-width="1.6"/>
<line x1="285.98" x2="285.98" y1="431.6" y2="436.4" stroke-width="1.6"/>
<line x1="306.71" x2="306.71" y1="2.6" y2="7.4" stroke-width="1.6"/>
<line x1="306.71" x2="306.71" y1="431.6" y2="436.4" stroke-width="1.6"/>
<line x1="324.23" x2="324.23" y1="2.6" y2="7.4" stroke-width="1.6"/>
<line x1="324.23" x2="324.23" y1="431.6" y2="436.4" stroke-width="1.6"/>
<line x1="339.41" x2="339.41" y1="2.6" y2="7.4" stroke-width="1.6"/>
<line x1="339.41" x2="339.41" y1="431.6" y2="436.4" stroke-width="1.6"/>
<line x1="352.80" x2="352.80" y1="2.6" y2="7.4" stroke-width="1.6"/>
<line x1="352.80" x2="352.80" y1="431.6" y2="436.4" stroke-width="1.6"/>
<line x1="443.59" x2="443.59" y1="2.6" y2="7.4" stroke-width="1.6"/>
<line x1="443.59" x2="443.59" y1="431.6" y2="436.4" stroke-width="1.6"/>
<line x1="489.68" x2="489.68" y1="2.6" y2="7.4" stroke-width="1.6"/>
<line x1="489.68" x2="489.68" y1="431.6" y2="436.4" stroke-width="1.6"/>
<line x1="522.39" x2="522.39" y1="2.6" y2="7.4" stroke-width="1.6"/>
<line x1="522.39" x2="522.39" y1="431.6" y2="436.4" stroke-width="1.6"/>
<line x1="547.76" x2="547.76" y1="2.6" y2="7.4" stroke-width="1.6"/>
<line x1="547.76" x2="547.76" y1="431.6" y2="436.4" stroke-width="1.6"/>
<line x1="568.49" x2="568.49" y1="2.6" y2="7.4" stroke-width="1.6"/>
<line x1="568.49" x2="568.49" y1="431.6" y2="436.4" stroke-width="1.6"/>
<line x1="586.01" x2="586.01" y1="2.6" y2="7.4" stroke-width="1.6"/>
<line x1="586.01" x2="586.01" y1="431.6" y2="436.4" stroke-width="1.6"/>
<line x1="601.20" x2="601.20" y1="2.6" y2="7.4" stroke-width="1.6"/>
<line x1="601.20" x2="601.20" y1="431.6" y2="436.4" stroke-width="1.6"/>
<line x1="614.59" x2="614.59" y1="2.6" y2="7.4" stroke-width="1.6"/>
<line x1="614.59" x2="614.59" y1="431.6" y2="436.4" stroke-width="1.6"/>
<line y1="311.01" y2="311.01" x1="97.8" x2="108.2" stroke-width="1.9"/>
<line y1="311.01" y2="311.01" x1="674.8" x2="685.2" stroke-width="1.9"/>
<line y1="75.81" y2="75.81" x1="97.8" x2="108.2" stroke-width="1.9"/>
<line y1="75.81" y2="75.81" x1="674.8" x2="685.2" stroke-width="1.9"/>
<line y1="434.00" y2="434.00" x1="100.6" x2="105.4" stroke-width="1.6"/>
<line y1="434.00" y2="434.00" x1="677.6" x2="682.4" stroke-width="1.6"/>
<line y1="404.61" y2="404.61" x1="100.6" x2="105.4" stroke-width="1.6"/>
<line y1="404.61" y2="404.61" x1="677.6" x2="682.4" stroke-width="1.6"/>
<line y1="381.82" y2="381.82" x1="100.6" x2="105.4" stroke-width="1.6"/>
<line y1="381.82" y2="381.82" x1="677.6" x2="682.4" stroke-width="1.6"/>
<line y1="363.19" y2="363.19" x1="100.6" x2="105.4" stroke-width="1.6"/>
<line y1="363.19" y2="363.19" x1="677.6" x2="682.4" stroke-width="1.6"/>
<line y1="347.45" y2="347.45" x1="100.6" x2="105.4" stroke-width="1.6"/>
<line y1="347.45" y2="347.45" x1="677.6" x2="682.4" stroke-width="1.6"/>
<line y1="333.81" y2="333.81" x1="100.6" x2="105.4" stroke-width="1.6"/>
<line y1="333.81" y2="333.81" x1="677.6" x2="682.4" stroke-width="1.6"/>
<line y1="321.78" y2="321.78" x1="100.6" x2="105.4" stroke-width="1.6"/>
<line y1="321.78" y2="321.78" x1="677.6" x2="682.4" stroke-width="1.6"/>
<line y1="240.21" y2="240.21" x1="100.6" x2="105.4" stroke-width="1.6"/>
<line y1="240.21" y2="240.21" x1="677.6" x2="682.4" stroke-width="1.6"/>
<line y1="198.79" y2="198.79" x1="100.6" x2="105.4" stroke-width="1.6"/>
<line y1="198.79" y2="198.79" x1="677.6" x2="682.4" stroke-width="1.6"/>
<line y1="169.40" y2="169.40" x1="100.6" x2="105.4" stroke-width="1.6"/>
<line y1="169.40" y2="169.40" x1="677.6" x2="682.4" stroke-width="1.6"/>
<line y1="146.61" y2="146.61" x1="100.6" x2="105.4" stroke-width="1.6"/>
<line y1="146.61" y2="146.61" x1="677.6" x2="682.4" stroke-width="1.6"/>
<line y1="127.99" y2="127.99" x1="100.6" x2="105.4" stroke-width="1.6"/>
<line y1="127.99" y2="127.99" x1="677.6" x2="682.4" stroke-width="1.6"/>
<line y1="112.24" y2="112.24" x1="100.6" x2="105.4" stroke-width="1.6"/>
<line y1="112.24" y2="112.24" x1="677.6" x2="682.4" stroke-width="1.6"/>
<line y1="98.60" y2="98.60" x1="100.6" x2="105.4" stroke-width="1.6"/>
<line y1="98.60" y2="98.60" x1="677.6" x2="682.4" stroke-width="1.6"/>
<line y1="86.57" y2="86.57" x1="100.6" x2="105.4" stroke-width="1.6"/>
<line y1="86.57" y2="86.57" x1="677.6" x2="682.4" stroke-width="1.6"/>
<line y1="5.00" y2="5.00" x1="100.6" x2="105.4" stroke-width="1.6"/>
<line y1="5.00" y2="5.00" x1="677.6" x2="682.4" stroke-width="1.6"/>
<rect x="103.0" y="5.0" width="577.0" height="429.0" stroke-width="2.0"/>
</g>
<text x="103.0" y="462.6" font-size="18" text-anchor="middle" fill="#000" stroke="#000" stroke-width="0.3" >1</text>
<text x="364.8" y="462.6" font-size="18" text-anchor="middle" fill="#000" stroke="#000" stroke-width="0.3" >10</text>
<text x="626.6" y="462.6" font-size="18" text-anchor="middle" fill="#000" stroke="#000" stroke-width="0.3" >100</text>
<text x="87.7" y="318.4" font-size="18" text-anchor="end" fill="#000" stroke="#000" stroke-width="0.3" >100</text>
<text x="87.7" y="83.2" font-size="18" text-anchor="end" fill="#000" stroke="#000" stroke-width="0.3" >1000</text>
<text x="384.8" y="45.1" font-size="18" text-anchor="start" fill="#000" stroke="#000" stroke-width="0.3" >30 au</text>
<text x="481.59999999999997" y="44.7" font-size="18" text-anchor="start" fill="#000" stroke="#000" stroke-width="0.3" >20 au</text>
<text x="501.3" y="61.2" font-size="18" text-anchor="start" fill="#000" stroke="#000" stroke-width="0.3" >15 au</text>
<text x="523.7" y="80.4" font-size="18" text-anchor="start" fill="#000" stroke="#000" stroke-width="0.3" >10 au</text>
<text x="545.6" y="102" font-size="18" text-anchor="start" fill="#000" stroke="#000" stroke-width="0.3" >7 au</text>
<text x="564.1" y="117.4" font-size="18" text-anchor="start" fill="#000" stroke="#000" stroke-width="0.3" >5 au</text>
<text x="593.6" y="142.5" font-size="18" text-anchor="start" fill="#000" stroke="#000" stroke-width="0.3" >3 au</text>
<text x="614.1" y="164.2" font-size="18" text-anchor="start" fill="#000" stroke="#000" stroke-width="0.3" >2 au</text>
<text x="652.1" y="209.8" font-size="18" text-anchor="start" fill="#000" stroke="#000" stroke-width="0.3" >10</text>
<text x="646.3000000000001" y="225.8" font-size="18" text-anchor="start" fill="#000" stroke="#000" stroke-width="0.3" >9</text>
<text x="637.1" y="235.0" font-size="18" text-anchor="start" fill="#000" stroke="#000" stroke-width="0.3" >8</text>
<text x="626.4000000000001" y="251.2" font-size="18" text-anchor="start" fill="#000" stroke="#000" stroke-width="0.3" >7</text>
<text x="614.2" y="266.6" font-size="18" text-anchor="start" fill="#000" stroke="#000" stroke-width="0.3" >6</text>
<text x="601.0" y="284.6" font-size="18" text-anchor="start" fill="#000" stroke="#000" stroke-width="0.3" >5</text>
<text x="580.5" y="305.5" font-size="18" text-anchor="start" fill="#000" stroke="#000" stroke-width="0.3" >4</text>
<text x="547.5" y="339.9" font-size="18" text-anchor="start" fill="#000" stroke="#000" stroke-width="0.3" >3</text>
<text x="485.7" y="387.7" font-size="18" text-anchor="start" fill="#000" stroke="#000" stroke-width="0.3" >2</text>
<text x="193.0" y="381.5" font-size="18" text-anchor="start" fill="#000" stroke="#000" stroke-width="0.3" >1 au</text>
<text transform="translate(613.91,97.10)" font-family="DejaVu Sans, sans-serif" font-style="normal" font-size="24.00" fill="#000" stroke="#000" stroke-width="0.3">r</text>
<text transform="translate(623.74,100.44) scale(0.960,1)" font-family="Liberation Sans, sans-serif" font-style="normal" font-size="16.55" fill="#000" stroke="#000" stroke-width="0.3">0</text>
<text transform="translate(280.99,409.47) scale(1.043,1)" font-family="Liberation Sans, sans-serif" font-style="italic" font-size="22.99" fill="#000" stroke="#000" stroke-width="0.3">λ</text>
<text transform="translate(292.88,412.85) scale(1.027,1)" font-family="DejaVu Sans, sans-serif" font-style="italic" font-size="15.81" fill="#000" stroke="#000" stroke-width="0.3">ϕ</text>
<text transform="translate(303.95,409.20)" font-family="DejaVu Sans, sans-serif" font-style="normal" font-size="24.00" fill="#000" stroke="#000" stroke-width="0.3">=</text>
<text x="324.2" y="410.4" font-size="18" text-anchor="start" fill="#000" stroke="#000" stroke-width="0.3" >1.55</text>
<text transform="translate(585.34,339.50)" font-family="DejaVu Sans, sans-serif" font-style="normal" font-size="24.00" fill="#ff0000" stroke="#ff0000" stroke-width="0.3">H</text>
<text transform="translate(603.37,342.76) scale(0.970,1)" font-family="Liberation Sans, sans-serif" font-style="normal" font-size="16.45" fill="#ff0000" stroke="#ff0000" stroke-width="0.3">2</text>
<text transform="translate(612.52,339.50)" font-family="DejaVu Sans, sans-serif" font-style="normal" font-size="24.00" fill="#ff0000" stroke="#ff0000" stroke-width="0.3">CO</text>
<text transform="translate(585.42,371.50)" font-family="DejaVu Sans, sans-serif" font-style="normal" font-size="24.00" fill="#0000ff" stroke="#0000ff" stroke-width="0.3">SO</text>
<text transform="translate(585.66,403.40)" font-family="DejaVu Sans, sans-serif" font-style="normal" font-size="24.00" fill="#ffa500" stroke="#ffa500" stroke-width="0.3">CH</text>
<text transform="translate(620.61,406.74) scale(0.876,1)" font-family="Liberation Sans, sans-serif" font-style="normal" font-size="16.55" fill="#ffa500" stroke="#ffa500" stroke-width="0.3">3</text>
<text transform="translate(629.59,403.40)" font-family="DejaVu Sans, sans-serif" font-style="normal" font-size="24.00" fill="#ffa500" stroke="#ffa500" stroke-width="0.3">OH</text>
<rect x="113.75" y="15.25" width="131.05" height="158.4" rx="3.2" fill="#fff" fill-opacity="0.8" stroke="#ccc" stroke-opacity="0.8" stroke-width="2.2"/>
<text transform="translate(164.72,34.70)" font-family="DejaVu Sans, sans-serif" font-style="normal" font-size="18.00" fill="#000" stroke="#000" stroke-width="0.3">z</text>
<text transform="translate(174.79,37.37) scale(0.985,1)" font-family="Liberation Sans, sans-serif" font-style="italic" font-size="12.49" fill="#000" stroke="#000" stroke-width="0.3">proj</text>
<circle cx="142.7" cy="62.1" r="5.9" fill="#000"/>
<text x="180.5" y="69.9" font-size="21" text-anchor="start" fill="#000" stroke="#000" stroke-width="0.3" >0.05"</text>
<circle cx="142.7" cy="92.8" r="9.2" fill="#000"/>
<text x="180.5" y="100.6" font-size="21" text-anchor="start" fill="#000" stroke="#000" stroke-width="0.3" >0.15"</text>
<circle cx="142.7" cy="123.6" r="12.1" fill="#000"/>
<text x="180.5" y="131.4" font-size="21" text-anchor="start" fill="#000" stroke="#000" stroke-width="0.3" >0.25"</text>
<circle cx="142.7" cy="154.3" r="14.9" fill="#000"/>
<text x="180.5" y="162.1" font-size="21" text-anchor="start" fill="#000" stroke="#000" stroke-width="0.3" >0.35"</text>
<text transform="translate(265.20,498.84) scale(0.944,1)" font-family="Liberation Sans, sans-serif" font-style="italic" font-size="21.23" fill="#000" stroke="#000" stroke-width="0.3">v</text>
<text transform="translate(275.11,501.79) scale(1.067,1)" font-family="Liberation Sans, sans-serif" font-style="italic" font-size="15.29" fill="#000" stroke="#000" stroke-width="0.3">tot</text>
<text transform="translate(292.94,498.50)" font-family="DejaVu Sans, sans-serif" font-style="normal" font-size="24.00" fill="#000" stroke="#000" stroke-width="0.3"> </text>
<text transform="translate(301.18,497.94) scale(1.059,1)" font-family="Liberation Serif, sans-serif" font-style="normal" font-size="22.57" fill="#000" stroke="#000" stroke-width="0.3">(</text>
<text transform="translate(310.87,498.50) scale(1.111,1)" font-family="Liberation Sans, sans-serif" font-style="italic" font-size="23.10" fill="#000" stroke="#000" stroke-width="0.3">M</text>
<text transform="translate(329.40,502.86) scale(0.987,1)" font-family="DejaVu Sans, sans-serif" font-style="normal" font-size="17.13" fill="#000" stroke="#000" stroke-width="0.3">⊙</text>
<text transform="translate(342.42,498.60) scale(1.470,1)" font-family="Liberation Serif, sans-serif" font-style="normal" font-size="24.76" fill="#000" stroke="#000" stroke-width="0.3">/</text>
<text transform="translate(351.02,498.50) scale(1.111,1)" font-family="Liberation Sans, sans-serif" font-style="italic" font-size="23.10" fill="#000" stroke="#000" stroke-width="0.3">M</text>
<text transform="translate(371.15,501.92) scale(0.965,1)" font-family="DejaVu Sans, sans-serif" font-style="normal" font-size="14.26" fill="#000" stroke="#000" stroke-width="0.3">★</text>
<text transform="translate(384.58,497.94) scale(1.059,1)" font-family="Liberation Serif, sans-serif" font-style="normal" font-size="22.57" fill="#000" stroke="#000" stroke-width="0.3">)</text>
<text transform="translate(393.00,489.87) scale(0.960,1)" font-family="Liberation Sans, sans-serif" font-style="normal" font-size="16.55" fill="#000" stroke="#000" stroke-width="0.3">0</text>
<text transform="translate(401.02,489.99) scale(1.105,1)" font-family="Liberation Sans, sans-serif" font-style="normal" font-size="17.68" fill="#000" stroke="#000" stroke-width="0.3">.</text>
<text transform="translate(405.84,489.87) scale(0.887,1)" font-family="Liberation Sans, sans-serif" font-style="normal" font-size="16.79" fill="#000" stroke="#000" stroke-width="0.3">5</text>
<text transform="translate(414.67,498.50)" font-family="DejaVu Sans, sans-serif" font-style="normal" font-size="24.00" fill="#000" stroke="#000" stroke-width="0.3"> (km s</text>
<text transform="translate(488.80,490.75) scale(1.217,1)" font-family="Liberation Sans, sans-serif" font-style="normal" font-size="15.78" fill="#000" stroke="#000" stroke-width="0.3">−</text>
<text transform="translate(500.10,489.80) scale(0.720,1)" font-family="Liberation Sans, sans-serif" font-style="normal" font-size="16.74" fill="#000" stroke="#000" stroke-width="0.3">1</text>
<text transform="translate(508.82,498.50)" font-family="DejaVu Sans, sans-serif" font-style="normal" font-size="24.00" fill="#000" stroke="#000" stroke-width="0.3">)</text>
<g transform="translate(20.1,398.95) rotate(-90)">
<text transform="translate(-0.90,0.00)" font-family="DejaVu Sans, sans-serif" font-style="normal" font-size="24.00" fill="#000" stroke="#000" stroke-width="0.3">R</text>
<text transform="translate(16.73,3.34) scale(0.988,1)" font-family="Liberation Sans, sans-serif" font-style="italic" font-size="16.15" fill="#000" stroke="#000" stroke-width="0.3">outflow</text>
<text transform="translate(67.30,0.00)" font-family="DejaVu Sans, sans-serif" font-style="normal" font-size="24.00" fill="#000" stroke="#000" stroke-width="0.3"> </text>
<text transform="translate(77.27,0.34) scale(0.944,1)" font-family="Liberation Sans, sans-serif" font-style="italic" font-size="21.23" fill="#000" stroke="#000" stroke-width="0.3">v</text>
<text transform="translate(86.66,3.65) scale(1.027,1)" font-family="DejaVu Sans, sans-serif" font-style="italic" font-size="15.81" fill="#000" stroke="#000" stroke-width="0.3">ϕ</text>
<text transform="translate(97.73,0.00)" font-family="DejaVu Sans, sans-serif" font-style="normal" font-size="24.00" fill="#000" stroke="#000" stroke-width="0.3"> </text>
<text transform="translate(105.97,-0.56) scale(1.059,1)" font-family="Liberation Serif, sans-serif" font-style="normal" font-size="22.57" fill="#000" stroke="#000" stroke-width="0.3">(</text>
<text transform="translate(115.66,0.00) scale(1.111,1)" font-family="Liberation Sans, sans-serif" font-style="italic" font-size="23.10" fill="#000" stroke="#000" stroke-width="0.3">M</text>
<text transform="translate(134.18,4.36) scale(0.987,1)" font-family="DejaVu Sans, sans-serif" font-style="normal" font-size="17.13" fill="#000" stroke="#000" stroke-width="0.3">⊙</text>
<text transform="translate(147.21,0.10) scale(1.470,1)" font-family="Liberation Serif, sans-serif" font-style="normal" font-size="24.76" fill="#000" stroke="#000" stroke-width="0.3">/</text>
<text transform="translate(155.21,0.00) scale(1.111,1)" font-family="Liberation Sans, sans-serif" font-style="italic" font-size="23.10" fill="#000" stroke="#000" stroke-width="0.3">M</text>
<text transform="translate(174.53,3.42) scale(0.965,1)" font-family="DejaVu Sans, sans-serif" font-style="normal" font-size="14.26" fill="#000" stroke="#000" stroke-width="0.3">★</text>
<text transform="translate(187.97,-0.56) scale(1.059,1)" font-family="Liberation Serif, sans-serif" font-style="normal" font-size="22.57" fill="#000" stroke="#000" stroke-width="0.3">)</text>
<text transform="translate(196.39,-8.63) scale(0.960,1)" font-family="Liberation Sans, sans-serif" font-style="normal" font-size="16.55" fill="#000" stroke="#000" stroke-width="0.3">0</text>
<text transform="translate(204.41,-8.51) scale(1.105,1)" font-family="Liberation Sans, sans-serif" font-style="normal" font-size="17.68" fill="#000" stroke="#000" stroke-width="0.3">.</text>
<text transform="translate(209.23,-8.63) scale(0.887,1)" font-family="Liberation Sans, sans-serif" font-style="normal" font-size="16.79" fill="#000" stroke="#000" stroke-width="0.3">5</text>
<text transform="translate(218.06,0.00)" font-family="DejaVu Sans, sans-serif" font-style="normal" font-size="24.00" fill="#000" stroke="#000" stroke-width="0.3"> (au km s</text>
<text transform="translate(329.73,-7.75) scale(1.217,1)" font-family="Liberation Sans, sans-serif" font-style="normal" font-size="15.78" fill="#000" stroke="#000" stroke-width="0.3">−</text>
<text transform="translate(341.03,-8.70) scale(0.720,1)" font-family="Liberation Sans, sans-serif" font-style="normal" font-size="16.74" fill="#000" stroke="#000" stroke-width="0.3">1</text>
<text transform="translate(349.75,0.00)" font-family="DejaVu Sans, sans-serif" font-style="normal" font-size="24.00" fill="#000" stroke="#000" stroke-width="0.3">)</text>
</g>
</svg>
</body></html>
